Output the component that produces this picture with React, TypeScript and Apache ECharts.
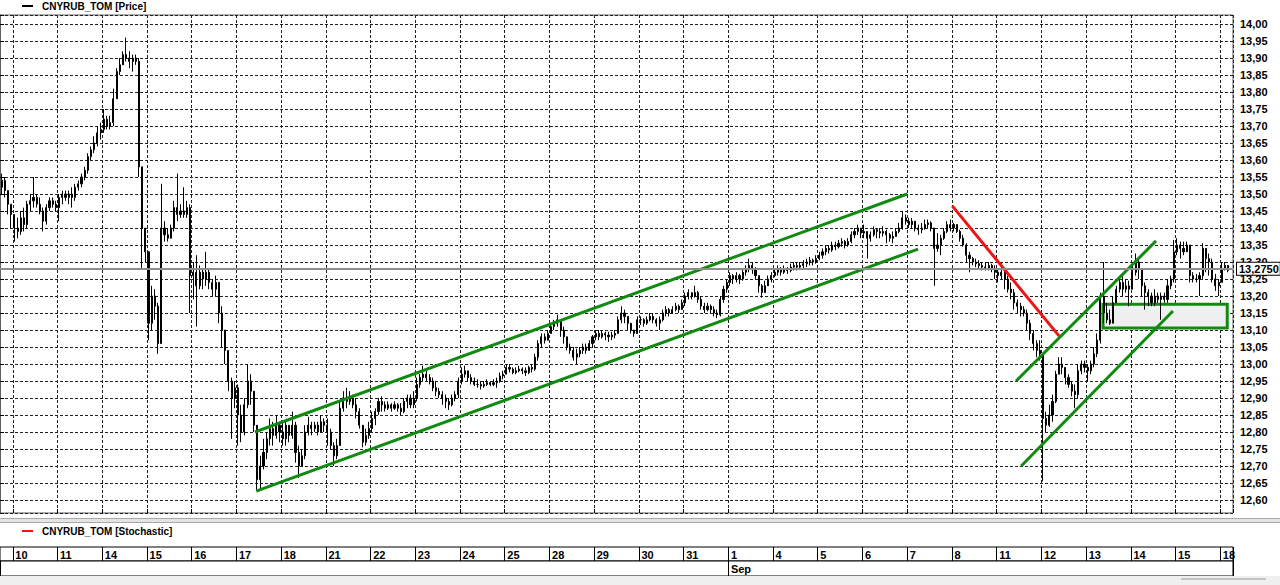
import React, { useEffect, useRef } from 'react';
import * as echarts from 'echarts';

const FONT = '"Liberation Sans", Arial, sans-serif';

// ---- time layout: bars per day, partial first/last day ----
const PRE = 4; // bars of Aug 9 visible at left edge
const PER_DAY = 14;
const dayLabels = ['10', '11', '14', '15', '16', '17', '18', '21', '22', '23', '24', '25', '28', '29', '30', '31', '1', '4', '5', '6', '7', '8', '11', '12', '13', '14', '15', '18'];
const monthLabel = 'Sep';
const monthStartDay = 16; // index in dayLabels where September begins
const TOTAL_SLOTS = PRE + 27 * PER_DAY + 4;

// ---- price data: [close, high, low] per bar; open = previous close ----
const firstOpen = 13.52;
const aug09 = [[13.54, 13.56, 13.50], [13.51, 13.55, 13.49], [13.47, 13.50, 13.44], [13.44, 13.47, 13.40]];
const aug10 = [[13.40, 13.43, 13.36], [13.39, 13.43, 13.37], [13.43, 13.45, 13.38], [13.41, 13.46, 13.39], [13.47, 13.48, 13.40], [13.48, 13.50, 13.45], [13.49, 13.55, 13.46], [13.47, 13.50, 13.46], [13.45, 13.49, 13.44], [13.42, 13.46, 13.39], [13.46, 13.47, 13.41], [13.48, 13.49, 13.45], [13.47, 13.49, 13.46], [13.46, 13.48, 13.45]];
const aug11 = [[13.49, 13.50, 13.42], [13.50, 13.51, 13.47], [13.49, 13.51, 13.48], [13.50, 13.51, 13.47], [13.49, 13.52, 13.46], [13.52, 13.53, 13.48], [13.53, 13.54, 13.51], [13.55, 13.56, 13.52], [13.57, 13.58, 13.54], [13.61, 13.62, 13.56], [13.63, 13.64, 13.60], [13.65, 13.67, 13.62], [13.68, 13.70, 13.64], [13.69, 13.71, 13.66]];
const aug14 = [[13.72, 13.75, 13.68], [13.70, 13.73, 13.69], [13.71, 13.73, 13.69], [13.78, 13.81, 13.70], [13.86, 13.87, 13.80], [13.88, 13.90, 13.85], [13.91, 13.92, 13.88], [13.90, 13.96, 13.89], [13.89, 13.92, 13.87], [13.90, 13.91, 13.86], [13.89, 13.91, 13.88], [13.58, 13.90, 13.55], [13.40, 13.58, 13.28], [13.33, 13.40, 13.30]];
const aug15 = [[13.12, 13.33, 13.07], [13.20, 13.23, 13.10], [13.17, 13.22, 13.13], [13.06, 13.18, 13.03], [13.40, 13.53, 13.06], [13.38, 13.42, 13.36], [13.37, 13.40, 13.36], [13.40, 13.41, 13.37], [13.46, 13.48, 13.39], [13.44, 13.56, 13.42], [13.45, 13.47, 13.43], [13.44, 13.52, 13.43], [13.46, 13.48, 13.43], [13.26, 13.47, 13.15]];
const aug16 = [[13.27, 13.30, 13.19], [13.23, 13.32, 13.11], [13.27, 13.29, 13.22], [13.25, 13.28, 13.22], [13.27, 13.33, 13.23], [13.24, 13.28, 13.22], [13.22, 13.25, 13.20], [13.24, 13.26, 13.20], [13.15, 13.22, 13.12], [13.10, 13.17, 13.05], [13.04, 13.08, 13.00], [12.95, 13.02, 12.92], [12.90, 12.96, 12.78], [12.93, 12.95, 12.87]];
const aug17 = [[12.85, 12.94, 12.76], [12.80, 12.88, 12.77], [12.88, 12.90, 12.79], [12.95, 13.00, 12.87], [12.92, 12.97, 12.88], [12.82, 12.92, 12.80], [12.66, 12.82, 12.63], [12.70, 12.73, 12.63], [12.74, 12.78, 12.69], [12.78, 12.80, 12.72], [12.81, 12.84, 12.76], [12.79, 12.83, 12.76], [12.82, 12.85, 12.78], [12.80, 12.83, 12.77]];
const aug18 = [[12.78, 12.83, 12.76], [12.82, 12.83, 12.76], [12.79, 12.82, 12.77], [12.82, 12.86, 12.78], [12.74, 12.83, 12.71], [12.70, 12.76, 12.665], [12.73, 12.75, 12.70], [12.80, 12.82, 12.72], [12.82, 12.845, 12.79], [12.81, 12.83, 12.79], [12.82, 12.83, 12.80], [12.80, 12.83, 12.79], [12.83, 12.85, 12.80], [12.82, 12.84, 12.80]];
const aug21 = [[12.80, 12.84, 12.76], [12.76, 12.81, 12.75], [12.73, 12.77, 12.70], [12.76, 12.78, 12.72], [12.87, 12.89, 12.76], [12.90, 12.92, 12.86], [12.89, 12.93, 12.87], [12.90, 12.92, 12.88], [12.88, 12.91, 12.87], [12.86, 12.90, 12.84], [12.82, 12.87, 12.81], [12.77, 12.82, 12.755], [12.79, 12.81, 12.76], [12.81, 12.83, 12.78]];
const aug22 = [[12.84, 12.86, 12.80], [12.86, 12.87, 12.82], [12.89, 12.90, 12.85], [12.88, 12.905, 12.86], [12.87, 12.89, 12.86], [12.88, 12.89, 12.865], [12.87, 12.885, 12.86], [12.88, 12.89, 12.865], [12.87, 12.885, 12.86], [12.86, 12.885, 12.85], [12.89, 12.90, 12.855], [12.90, 12.91, 12.87], [12.88, 12.91, 12.87], [12.90, 12.92, 12.87]];
const aug23 = [[12.94, 12.96, 12.89], [12.96, 12.97, 12.93], [12.97, 12.995, 12.95], [12.96, 12.98, 12.95], [12.95, 12.97, 12.94], [12.93, 12.96, 12.92], [12.92, 12.95, 12.905], [12.91, 12.93, 12.90], [12.90, 12.92, 12.88], [12.89, 12.91, 12.87], [12.88, 12.90, 12.865], [12.90, 12.91, 12.875], [12.91, 12.92, 12.89], [12.95, 12.96, 12.90]];
const aug24 = [[12.97, 12.99, 12.94], [12.98, 12.995, 12.96], [12.96, 12.98, 12.95], [12.95, 12.97, 12.94], [12.94, 12.96, 12.935], [12.94, 12.955, 12.93], [12.935, 12.95, 12.925], [12.94, 12.95, 12.93], [12.945, 12.955, 12.935], [12.94, 12.95, 12.935], [12.945, 12.955, 12.935], [12.95, 12.96, 12.93], [12.965, 12.975, 12.945], [12.97, 12.98, 12.955]];
const aug25 = [[12.99, 13.00, 12.97], [12.985, 13.00, 12.975], [12.975, 12.99, 12.97], [12.98, 12.99, 12.97], [12.985, 12.995, 12.975], [12.98, 12.99, 12.97], [12.975, 12.99, 12.965], [12.99, 12.995, 12.97], [12.985, 13.00, 12.975], [13.02, 13.03, 12.98], [13.06, 13.07, 13.01], [13.08, 13.09, 13.05], [13.07, 13.09, 13.06], [13.09, 13.10, 13.07]];
const aug28 = [[13.11, 13.12, 13.09], [13.12, 13.13, 13.10], [13.13, 13.145, 13.11], [13.10, 13.13, 13.08], [13.08, 13.11, 13.06], [13.05, 13.08, 13.04], [13.04, 13.06, 13.03], [13.02, 13.05, 13.01], [13.03, 13.045, 13.00], [13.04, 13.05, 13.02], [13.05, 13.06, 13.03], [13.04, 13.06, 13.03], [13.06, 13.07, 13.04], [13.08, 13.085, 13.05]];
const aug29 = [[13.09, 13.10, 13.07], [13.08, 13.10, 13.07], [13.09, 13.10, 13.075], [13.085, 13.095, 13.07], [13.08, 13.095, 13.065], [13.085, 13.095, 13.07], [13.09, 13.10, 13.075], [13.13, 13.14, 13.09], [13.15, 13.17, 13.12], [13.14, 13.16, 13.12], [13.12, 13.13, 13.10], [13.10, 13.12, 13.09], [13.09, 13.10, 13.08], [13.13, 13.14, 13.09]];
const aug30 = [[13.13, 13.14, 13.115], [13.12, 13.135, 13.11], [13.13, 13.14, 13.115], [13.14, 13.15, 13.125], [13.13, 13.15, 13.12], [13.12, 13.135, 13.11], [13.13, 13.14, 13.10], [13.15, 13.16, 13.125], [13.16, 13.17, 13.14], [13.15, 13.165, 13.14], [13.16, 13.17, 13.15], [13.17, 13.18, 13.155], [13.16, 13.175, 13.15], [13.18, 13.19, 13.16]];
const aug31 = [[13.20, 13.21, 13.17], [13.21, 13.22, 13.19], [13.20, 13.21, 13.19], [13.21, 13.23, 13.195], [13.19, 13.215, 13.18], [13.17, 13.20, 13.16], [13.16, 13.18, 13.15], [13.17, 13.18, 13.155], [13.16, 13.175, 13.15], [13.15, 13.17, 13.14], [13.145, 13.16, 13.135], [13.19, 13.20, 13.14], [13.22, 13.23, 13.18], [13.24, 13.25, 13.21]];
const sep01 = [[13.26, 13.27, 13.23], [13.25, 13.265, 13.235], [13.26, 13.27, 13.24], [13.25, 13.265, 13.235], [13.27, 13.28, 13.245], [13.28, 13.29, 13.26], [13.29, 13.31, 13.27], [13.28, 13.30, 13.265], [13.26, 13.285, 13.25], [13.23, 13.26, 13.21], [13.21, 13.235, 13.195], [13.23, 13.245, 13.21], [13.25, 13.26, 13.23], [13.26, 13.27, 13.24]];
const sep04 = [[13.27, 13.28, 13.255], [13.28, 13.29, 13.26], [13.27, 13.285, 13.26], [13.28, 13.29, 13.265], [13.275, 13.285, 13.265], [13.285, 13.295, 13.27], [13.29, 13.30, 13.275], [13.285, 13.30, 13.275], [13.29, 13.30, 13.28], [13.295, 13.305, 13.28], [13.30, 13.31, 13.285], [13.305, 13.315, 13.29], [13.30, 13.31, 13.29], [13.31, 13.32, 13.295]];
const sep05 = [[13.32, 13.33, 13.305], [13.33, 13.34, 13.31], [13.34, 13.35, 13.32], [13.335, 13.35, 13.325], [13.35, 13.36, 13.33], [13.345, 13.36, 13.335], [13.355, 13.365, 13.34], [13.36, 13.37, 13.345], [13.35, 13.365, 13.34], [13.36, 13.37, 13.345], [13.38, 13.39, 13.355], [13.39, 13.40, 13.37], [13.40, 13.41, 13.38], [13.385, 13.40, 13.37]];
const sep06 = [[13.39, 13.41, 13.37], [13.37, 13.39, 13.31], [13.38, 13.39, 13.36], [13.395, 13.405, 13.375], [13.39, 13.40, 13.37], [13.385, 13.40, 13.37], [13.39, 13.405, 13.375], [13.38, 13.395, 13.355], [13.37, 13.385, 13.36], [13.375, 13.39, 13.355], [13.39, 13.40, 13.38], [13.40, 13.415, 13.385], [13.43, 13.45, 13.395], [13.42, 13.44, 13.41]];
const sep07 = [[13.41, 13.43, 13.40], [13.42, 13.43, 13.40], [13.40, 13.42, 13.39], [13.395, 13.41, 13.38], [13.40, 13.415, 13.385], [13.41, 13.425, 13.395], [13.415, 13.425, 13.40], [13.40, 13.42, 13.39], [13.34, 13.40, 13.23], [13.35, 13.385, 13.33], [13.37, 13.38, 13.32], [13.39, 13.40, 13.365], [13.41, 13.42, 13.385], [13.40, 13.425, 13.39]];
const sep08 = [[13.41, 13.415, 13.39], [13.39, 13.41, 13.385], [13.37, 13.395, 13.36], [13.35, 13.38, 13.345], [13.32, 13.355, 13.30], [13.31, 13.33, 13.27], [13.30, 13.315, 13.29], [13.295, 13.31, 13.285], [13.29, 13.305, 13.28], [13.285, 13.30, 13.275], [13.28, 13.30, 13.275], [13.29, 13.30, 13.275], [13.28, 13.295, 13.27], [13.27, 13.29, 13.25]];
const sep11 = [[13.26, 13.28, 13.24], [13.27, 13.30, 13.25], [13.25, 13.28, 13.22], [13.22, 13.26, 13.21], [13.21, 13.24, 13.19], [13.18, 13.22, 13.16], [13.17, 13.19, 13.15], [13.16, 13.18, 13.14], [13.15, 13.17, 13.14], [13.12, 13.16, 13.10], [13.09, 13.13, 13.07], [13.06, 13.10, 13.04], [13.04, 13.07, 13.02], [13.03, 13.07, 13.01]];
const sep12 = [[12.84, 13.03, 12.655], [12.82, 12.86, 12.80], [12.85, 12.88, 12.815], [12.89, 12.91, 12.83], [12.97, 12.98, 12.885], [13.00, 13.02, 12.97], [12.99, 13.02, 12.97], [12.96, 12.99, 12.94], [12.94, 12.97, 12.93], [12.92, 12.95, 12.905], [12.91, 12.94, 12.87], [12.98, 13.00, 12.90], [13.00, 13.01, 12.97], [12.99, 13.01, 12.975]];
const sep13 = [[12.98, 13.00, 12.95], [13.00, 13.01, 12.97], [13.03, 13.05, 12.99], [13.07, 13.09, 13.02], [13.20, 13.21, 13.06], [13.15, 13.30, 13.12], [13.13, 13.18, 13.12], [13.12, 13.16, 13.115], [13.18, 13.20, 13.12], [13.22, 13.23, 13.18], [13.24, 13.25, 13.21], [13.22, 13.26, 13.20], [13.23, 13.25, 13.21], [13.22, 13.245, 13.17]];
const sep14 = [[13.27, 13.30, 13.22], [13.30, 13.325, 13.26], [13.28, 13.31, 13.25], [13.23, 13.26, 13.20], [13.21, 13.24, 13.16], [13.20, 13.22, 13.17], [13.18, 13.21, 13.17], [13.20, 13.22, 13.17], [13.19, 13.21, 13.18], [13.20, 13.21, 13.13], [13.19, 13.21, 13.18], [13.23, 13.25, 13.18], [13.25, 13.26, 13.22], [13.33, 13.365, 13.24]];
const sep15 = [[13.35, 13.37, 13.32], [13.34, 13.36, 13.31], [13.33, 13.36, 13.32], [13.35, 13.36, 13.33], [13.26, 13.35, 13.24], [13.25, 13.27, 13.24], [13.25, 13.265, 13.24], [13.26, 13.27, 13.20], [13.34, 13.355, 13.25], [13.31, 13.34, 13.27], [13.30, 13.325, 13.26], [13.25, 13.31, 13.24], [13.23, 13.265, 13.215], [13.24, 13.25, 13.20]];
const sep18 = [[13.28, 13.30, 13.24], [13.29, 13.30, 13.275], [13.275, 13.29, 13.27]];

const fullDays = [aug10, aug11, aug14, aug15, aug16, aug17, aug18, aug21, aug22, aug23, aug24, aug25, aug28, aug29, aug30, aug31, sep01, sep04, sep05, sep06, sep07, sep08, sep11, sep12, sep13, sep14, sep15, sep18];

const lastPrice = 13.275;
const lastPriceText = '13,2750';

// ---- drawn studies, in (bar slot, price) coordinates ----
const channelUpper = [[79.8, 12.80], [284.0, 13.50]];
const channelLower = [[80.2, 12.626], [287.4, 13.338]];
const redLine = [[298.1, 13.465], [331.6, 13.082]];
const rightUpper = [[318.1, 12.95], [361.9, 13.362]];
const rightLower = [[319.7, 12.70], [367.2, 13.156]];
const boxCorners = [[345.3, 13.176], [384.2, 13.106]];

const yMin = 12.5618;
const yMax = 14.0265;

// ---- build ----
const categories = Array.from({ length: TOTAL_SLOTS }, (_, i) => String(i));
const candleData: (number[] | string)[] = [];
{
  let prev = firstOpen;
  const push = (b: number[]) => {
    const [c, h, l] = b;
    const o = prev;
    candleData.push([o, c, Math.min(l, o, c), Math.max(h, o, c)]);
    prev = c;
  };
  aug09.forEach(push);
  fullDays.forEach((d) => d.forEach(push));
}
const isDayStart = (i: number) => i >= PRE && (i - PRE) % PER_DAY === 0;
const sepIdx = PRE + monthStartDay * PER_DAY;

const boldFont = (size: number) => `bold ${size}px ${FONT}`;

const trend = (pts: number[][], color: string, z = 4) => ({
  type: 'line',
  xAxisIndex: 3,
  yAxisIndex: 0,
  data: pts,
  symbol: 'none',
  silent: true,
  z,
  lineStyle: { color, width: 3 },
});

const option: any = {
  animation: false,
  backgroundColor: '#ffffff',
  textStyle: { fontFamily: FONT },
  grid: [
    { left: 0, top: 15, width: 1233, height: 498, show: true, borderColor: '#606060', borderWidth: 1, backgroundColor: '#fff', containLabel: false, outerBoundsMode: 'none' },
    { left: 0, top: 547, width: 1233, height: 14, show: true, borderColor: '#000', borderWidth: 1, backgroundColor: '#fff', containLabel: false, outerBoundsMode: 'none' },
    { left: 0, top: 561, width: 1233, height: 15, show: true, borderColor: '#000', borderWidth: 1, backgroundColor: '#fff', containLabel: false, outerBoundsMode: 'none' },
  ],
  xAxis: [
    {
      type: 'category', gridIndex: 0, data: categories, boundaryGap: true,
      axisLine: { show: false },
      axisLabel: { show: false },
      axisTick: { show: true, inside: true, length: 4, interval: (i: number) => isDayStart(i), lineStyle: { color: '#000' } },
      splitLine: { show: true, interval: (i: number) => isDayStart(i), lineStyle: { color: '#222', width: 1, type: [3, 2] } },
    },
    {
      type: 'category', gridIndex: 1, data: categories, boundaryGap: true, position: 'top',
      axisLine: { show: false }, axisTick: { show: false },
      splitLine: { show: true, interval: (i: number) => isDayStart(i), lineStyle: { color: '#000', width: 1 } },
      axisLabel: {
        show: true, inside: true, margin: 2, interval: (i: number) => isDayStart(i),
        align: 'left', padding: [0, 0, 0, 1], fontSize: 11, fontWeight: 'bold', color: '#000', fontFamily: FONT,
        formatter: (v: string) => { const i = Number(v); return isDayStart(i) ? dayLabels[(i - PRE) / PER_DAY] : ''; },
      },
    },
    {
      type: 'category', gridIndex: 2, data: categories, boundaryGap: true, position: 'top',
      axisLine: { show: false }, axisTick: { show: false },
      splitLine: { show: true, interval: (i: number) => i === 0 || i === sepIdx, lineStyle: { color: '#000', width: 1 } },
      axisLabel: {
        show: true, inside: true, margin: 2, interval: (i: number) => i === sepIdx,
        align: 'left', padding: [0, 0, 0, 1], fontSize: 11, fontWeight: 'bold', color: '#000', fontFamily: FONT,
        formatter: (v: string) => (Number(v) === sepIdx ? monthLabel : ''),
      },
    },
    { type: 'value', gridIndex: 0, min: 0, max: TOTAL_SLOTS, show: false },
  ],
  yAxis: [
    {
      type: 'value', gridIndex: 0, position: 'right', min: yMin, max: yMax,
      minInterval: 0.05, maxInterval: 0.05, splitNumber: 29, scale: true,
      axisLine: { show: true, lineStyle: { color: '#606060' } },
      axisTick: { show: true, length: 4, lineStyle: { color: '#000' } },
      axisLabel: {
        show: true, margin: 7, fontSize: 11, fontWeight: 'bold', color: '#000', fontFamily: FONT,
        formatter: (v: number) => { const k = Math.round(v * 20); return Math.abs(v * 20 - k) < 1e-6 ? (k / 20).toFixed(2).replace('.', ',') : ''; },
      },
      splitLine: { show: true, lineStyle: { color: '#222', width: 1, type: [3, 2] } },
    },
    { type: 'value', gridIndex: 1, show: false },
    { type: 'value', gridIndex: 2, show: false },
  ],
  series: [
    {
      type: 'line', xAxisIndex: 3, yAxisIndex: 0, data: [], symbol: 'none', silent: true, z: 1,
      markArea: {
        silent: true,
        itemStyle: { color: '#efefef', borderColor: '#118a11', borderWidth: 3 },
        data: [[{ coord: boxCorners[0] }, { coord: boxCorners[1] }]],
      },
    },
    {
      type: 'candlestick', xAxisIndex: 0, yAxisIndex: 0, data: candleData, z: 3,
      barWidth: 1.6,
      itemStyle: { color: '#000', color0: '#000', borderColor: '#000', borderColor0: '#000', borderWidth: 1 },
      markLine: {
        silent: true, symbol: 'none',
        data: [{
          yAxis: lastPrice,
          lineStyle: { color: '#8c8c8c', width: 2, type: 'solid' },
          label: {
            show: true, position: 'end', distance: 4, formatter: lastPriceText,
            color: '#000', fontWeight: 'bold', fontSize: 11, fontFamily: FONT,
            backgroundColor: '#fff', borderColor: '#000', borderWidth: 1, padding: [1, 1, 0, 2],
          },
        }],
      },
    },
    trend(channelUpper, '#118a11'),
    trend(channelLower, '#118a11'),
    trend(redLine, '#f01414'),
    trend(rightUpper, '#118a11'),
    trend(rightLower, '#118a11'),
  ],
  graphic: [
    { type: 'line', shape: { x1: 22, y1: 6, x2: 33, y2: 6 }, style: { stroke: '#000', lineWidth: 2 } },
    { type: 'text', x: 42, y: 6, style: { text: 'CNYRUB_TOM [Price]', font: boldFont(10), fill: '#000', verticalAlign: 'middle' } },
    { type: 'rect', shape: { x: 0, y: 518, width: 1280, height: 5 }, style: { fill: '#e4e4e4' } },
    { type: 'line', shape: { x1: 0, y1: 518.5, x2: 1280, y2: 518.5 }, style: { stroke: '#a8a8a8', lineWidth: 1 } },
    { type: 'line', shape: { x1: 0, y1: 522.5, x2: 1280, y2: 522.5 }, style: { stroke: '#a8a8a8', lineWidth: 1 } },
    { type: 'line', shape: { x1: 22, y1: 531, x2: 33, y2: 531 }, style: { stroke: '#f01414', lineWidth: 2 } },
    { type: 'text', x: 42, y: 531, style: { text: 'CNYRUB_TOM [Stochastic]', font: boldFont(10), fill: '#000', verticalAlign: 'middle' } },
    { type: 'rect', shape: { x: 0, y: 576, width: 1280, height: 9 }, style: { fill: '#f0f0f0' } },
    { type: 'line', shape: { x1: 1181, y1: 579, x2: 1266, y2: 579 }, style: { stroke: '#c4c4c4', lineWidth: 2 } },
  ],
};

export default function App() {
  const ref = useRef<HTMLDivElement>(null);
  useEffect(() => {
    document.body.style.margin = '0';
    const chart = echarts.init(ref.current as HTMLDivElement, null, { renderer: 'svg' });
    chart.setOption(option);
    return () => chart.dispose();
  }, []);
  return <div ref={ref} style={{ width: 1280, height: 585, position: 'absolute', left: 0, top: 0 }} />;
}
